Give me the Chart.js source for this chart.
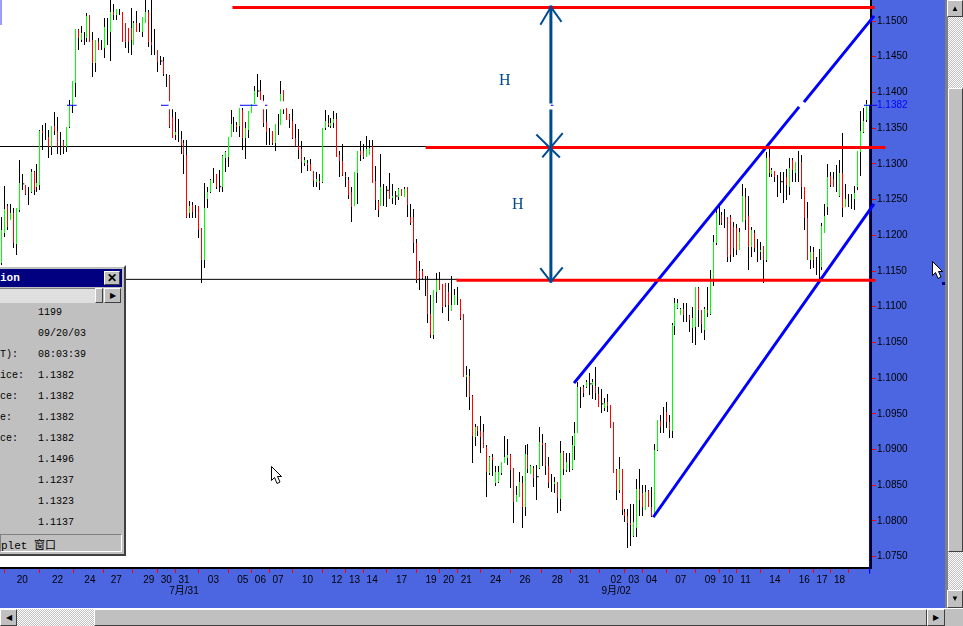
<!DOCTYPE html>
<html>
<head>
<meta charset="utf-8">
<script src="https://cdn.jsdelivr.net/npm/chart.js@4/dist/chart.umd.min.js"></script>
<style>
html, body { margin: 0; padding: 0; background: #4b66e0; overflow: hidden; }
#wrap { position: relative; width: 963px; height: 626px; overflow: hidden; }
canvas { position: absolute; left: 0; top: 0; }
.box { position: absolute; box-sizing: border-box; }
.dither { background: repeating-conic-gradient(#c0c0c0 0 25%, #fff 0 50%) 0 0 / 2px 2px; }
.btn { background: #c0c0c0; border: 1px solid; border-color: #fff #404040 #404040 #fff; }
.hl { position: absolute; font: 16px "Liberation Serif", serif; color: #004a8f; }
.row { position: absolute; font: 10px "Liberation Mono", monospace; color: #000; white-space: pre; }
</style>
</head>
<body>
<div id="wrap">
<canvas id="chart" width="963" height="626"></canvas>

<div class="box" style="left:0;top:0;width:2px;height:25px;background:#9a9aff"></div>
<div class="hl" style="left:499px;top:71px">H</div>
<div class="hl" style="left:512px;top:195px">H</div>

<!-- data window -->
<div class="box" style="left:0;top:265px;width:126px;height:291px;background:#c0c0c0;border-top:2px solid #fff;border-right:2px solid #404040;border-bottom:2px solid #404040">
  <div class="box" style="left:0;top:2px;width:122px;height:18px;background:#000080"></div>
  <div class="row" style="left:0;top:5px;color:#fff;font-weight:bold;font-size:11px">ion</div>
  <div class="box btn" style="left:104px;top:4px;width:16px;height:14px;font:bold 12px 'Liberation Sans';line-height:12px;text-align:center">✕</div>
  <div class="box" style="left:0;top:21px;width:95px;height:15px;background:#dfdfdf;border-top:1px solid #808080"></div>
  <div class="box btn" style="left:95px;top:21px;width:8px;height:15px"></div>
  <div class="box btn" style="left:104px;top:21px;width:17px;height:15px;font:8px 'Liberation Sans';line-height:13px;text-align:center">▶</div>
  <div class="row" style="left:38px;top:40px">1199</div>
  <div class="row" style="left:38px;top:61px">09/20/03</div>
  <div class="row" style="left:0;top:82px">T):</div><div class="row" style="left:38px;top:82px">08:03:39</div>
  <div class="row" style="left:0;top:103px">ice:</div><div class="row" style="left:38px;top:103px">1.1382</div>
  <div class="row" style="left:0;top:124px">ce:</div><div class="row" style="left:38px;top:124px">1.1382</div>
  <div class="row" style="left:0;top:145px">e:</div><div class="row" style="left:38px;top:145px">1.1382</div>
  <div class="row" style="left:0;top:166px">ce:</div><div class="row" style="left:38px;top:166px">1.1382</div>
  <div class="row" style="left:38px;top:187px">1.1496</div>
  <div class="row" style="left:38px;top:208px">1.1237</div>
  <div class="row" style="left:38px;top:229px">1.1323</div>
  <div class="row" style="left:38px;top:250px">1.1137</div>
  <div class="box" style="left:0;top:267px;width:122px;height:18px;border:1px solid;border-color:#808080 #fff #fff #808080"></div>
  <div class="row" style="left:1px;top:269px;font:11px 'Liberation Mono','Noto Sans CJK SC'">plet 窗口</div>
</div>

<!-- cursors -->
<svg class="box" style="left:271px;top:466px" width="12" height="20"><path d="M0.5 0.5V14.5L3.5 11.5L6 17.5L9 16L6.5 10.5H10.5Z" fill="#fff" stroke="#000"/></svg>
<svg class="box" style="left:932px;top:261px" width="12" height="20"><path d="M0.5 0.5V14.5L3.5 11.5L6 17.5L9 16L6.5 10.5H10.5Z" fill="#fff" stroke="#000"/></svg>
<div class="box" style="left:942px;top:282px;width:3px;height:3px;background:#000080"></div>

<!-- right scrollbar -->
<div class="box" style="left:945px;top:0;width:3px;height:608px;background:#808080"></div>
<div class="box dither" style="left:948px;top:0;width:15px;height:608px"></div>
<div class="box btn" style="left:947px;top:0;width:16px;height:17px;font:8px 'Liberation Sans';line-height:15px;text-align:center">▲</div>
<div class="box btn" style="left:948px;top:88px;width:15px;height:464px"></div>
<div class="box btn" style="left:947px;top:590px;width:16px;height:18px;font:8px 'Liberation Sans';line-height:16px;text-align:center">▼</div>

<!-- bottom scrollbar -->
<div class="box" style="left:0;top:608px;width:963px;height:18px;background:#c0c0c0;border-top:1px solid #fff"></div>
<div class="box btn" style="left:0;top:609px;width:17px;height:17px;font:8px 'Liberation Sans';line-height:15px;text-align:center">◀</div>
<div class="box dither" style="left:17px;top:609px;width:77px;height:17px"></div>
<div class="box btn" style="left:94px;top:609px;width:833px;height:17px"></div>
<div class="box btn" style="left:927px;top:609px;width:18px;height:17px;font:8px 'Liberation Sans';line-height:15px;text-align:center">▶</div>
</div>

<script>
// ===== Bars, prices in 1/10000 =====
const highs = [
11226,11269,11244,11244,11238,11238,11305,11286,11270,11268,
11293,11290,11300,11347,11354,11357,11347,11353,11373,11366,
11345,11333,11352,11389,11416,11489,11489,11493,11485,11511,
11508,11485,11473,11476,11473,11504,11504,11536,11524,11517,
11517,11513,11497,11490,11518,11500,11514,11497,11506,11536,
11515,11536,11489,11459,11451,11450,11426,11424,11378,11373,
11363,11346,11333,11333,11248,11247,11242,11241,11210,11273,
11268,11279,11294,11286,11291,11312,11318,11338,11375,11366,
11359,11378,11378,11359,11374,11384,11409,11426,11417,11396,
11377,11350,11346,11356,11370,11416,11403,11378,11370,11377,
11356,11349,11332,11310,11305,11307,11290,11289,11286,11350,
11375,11368,11364,11374,11371,11318,11328,11289,11282,11268,
11289,11318,11332,11328,11339,11333,11333,11297,11249,11314,
11272,11269,11287,11272,11262,11266,11265,11268,11268,11244,
11237,11195,11164,11153,11143,11143,11116,11123,11147,11149,
11132,11133,11133,11143,11125,11128,11111,11090,11017,11013,
10976,10936,10933,10947,10936,10906,10891,10894,10877,10877,
10883,10919,10915,10894,10874,10849,10869,10863,10906,10908,
10878,10877,10878,10932,10922,10909,10890,10866,10862,10855,
10912,10898,10895,10895,10919,10939,10995,10988,10990,10997,
11007,10999,11016,10988,10985,10972,10978,10962,10939,10873,
10890,10873,10817,10817,10824,10824,10859,10873,10850,10850,
10843,10848,10908,10941,10948,10960,10967,10948,11077,11112,
11111,11098,11105,11105,11088,11100,11128,11128,11095,11100,
11128,11151,11200,11238,11242,11233,11237,11226,11228,11219,
11216,11210,11272,11266,11255,11212,11207,11195,11191,11185,
11317,11322,11294,11290,11284,11289,11289,11293,11308,11308,
11303,11318,11312,11268,11247,11185,11184,11170,11181,11217,
11244,11300,11289,11289,11298,11305,11343,11272,11258,11258,
11269,11318,11374,11378,11389];

const lows = [
11158,11198,11207,11221,11182,11172,11233,11263,11256,11242,
11259,11256,11261,11263,11319,11333,11308,11312,11340,11314,
11312,11314,11317,11350,11371,11394,11459,11471,11466,11471,
11471,11422,11429,11459,11459,11448,11466,11444,11501,11501,
11508,11471,11462,11455,11452,11466,11485,11485,11478,11497,
11464,11452,11452,11429,11438,11423,11408,11350,11336,11333,
11331,11314,11286,11224,11224,11224,11224,11196,11133,11154,
11238,11259,11273,11265,11261,11261,11289,11296,11338,11345,
11345,11338,11319,11307,11336,11371,11384,11394,11389,11352,
11326,11326,11326,11318,11340,11354,11370,11361,11350,11335,
11325,11307,11287,11297,11290,11290,11268,11268,11263,11273,
11347,11352,11350,11350,11310,11282,11283,11268,11251,11219,
11241,11244,11304,11307,11310,11312,11273,11235,11226,11241,
11241,11240,11251,11244,11242,11249,11255,11254,11226,11214,
11175,11133,11123,11137,11115,11077,11056,11055,11105,11123,
11091,11100,11080,11094,11102,11102,11081,11002,10974,10955,
10881,10905,10919,10895,10902,10834,10864,10863,10849,10853,
10864,10881,10878,10846,10797,10827,10834,10790,10807,10867,
10866,10848,10829,10873,10877,10864,10846,10841,10839,10811,
10814,10864,10869,10869,10871,10885,10923,10958,10974,10986,
10976,10971,10969,10960,10951,10954,10953,10930,10867,10829,
10839,10808,10799,10762,10765,10778,10778,10807,10807,10815,
10820,10806,10807,10898,10923,10923,10930,10916,10916,11060,
11097,11088,11079,11079,11065,11049,11046,11072,11063,11053,
11086,11088,11129,11186,11214,11214,11210,11163,11163,11170,
11172,11179,11219,11207,11151,11170,11177,11163,11165,11133,
11163,11282,11282,11275,11254,11259,11245,11249,11256,11275,
11275,11275,11251,11207,11165,11153,11154,11144,11137,11151,
11203,11228,11268,11268,11261,11254,11226,11240,11240,11237,
11235,11263,11283,11343,11359];

const opens = [
11161,11203,11241,11221,11231,11188,11235,11272,11270,11261,
11261,11289,11268,11270,11346,11343,11338,11324,11353,11346,
11333,11332,11324,11352,11382,11413,11487,11473,11476,11476,
11508,11473,11441,11471,11466,11462,11487,11485,11513,11508,
11514,11513,11497,11490,11490,11466,11497,11492,11485,11497,
11513,11471,11473,11459,11444,11444,11417,11423,11366,11340,
11347,11335,11329,11312,11231,11242,11233,11241,11210,11165,
11251,11261,11284,11286,11268,11268,11308,11310,11338,11354,
11354,11353,11375,11336,11347,11371,11384,11402,11402,11389,
11359,11340,11346,11329,11356,11354,11403,11378,11368,11360,
11336,11325,11321,11301,11301,11300,11290,11275,11276,11275,
11350,11357,11353,11357,11363,11312,11304,11283,11277,11261,
11241,11287,11318,11318,11310,11312,11325,11276,11248,11241,
11256,11263,11263,11252,11255,11254,11265,11254,11268,11226,
11226,11189,11150,11150,11135,11137,11090,11060,11121,11137,
11132,11133,11121,11094,11102,11112,11111,11090,11002,11003,
10975,10918,10933,10926,10925,10904,10867,10890,10853,10855,
10867,10881,10888,10892,10874,10827,10834,10853,10820,10892,
10866,10874,10862,10874,10909,10908,10877,10853,10852,10855,
10831,10897,10871,10883,10873,10905,10923,10982,10988,10988,
10992,10990,10989,10978,10964,10958,10967,10962,10939,10871,
10843,10873,10813,10807,10797,10779,10790,10845,10839,10815,
10842,10820,10811,10899,10940,10932,10953,10939,10926,11073,
11098,11088,11097,11091,11087,11070,11072,11126,11095,11067,
11095,11090,11137,11189,11228,11228,11219,11226,11226,11212,
11210,11179,11219,11254,11227,11184,11203,11182,11177,11185,
11165,11310,11286,11290,11282,11275,11263,11282,11268,11305,
11287,11298,11303,11268,11224,11165,11177,11163,11151,11156,
11203,11240,11283,11279,11270,11255,11287,11240,11249,11249,
11251,11268,11317,11345,11361];

const closes = [
11207,11237,11212,11231,11189,11238,11273,11272,11258,11261,
11289,11263,11273,11346,11343,11343,11324,11353,11346,11324,
11333,11324,11352,11382,11416,11489,11476,11483,11476,11507,
11471,11441,11473,11459,11466,11492,11487,11513,11508,11517,
11514,11471,11471,11471,11473,11497,11485,11492,11506,11513,
11471,11466,11473,11443,11444,11426,11417,11352,11336,11345,
11347,11326,11312,11226,11241,11233,11233,11207,11165,11238,
11261,11277,11284,11268,11268,11311,11317,11338,11356,11354,
11352,11378,11336,11350,11374,11384,11402,11402,11389,11357,
11345,11340,11329,11356,11356,11398,11378,11361,11361,11336,
11325,11319,11303,11305,11298,11290,11276,11279,11273,11350,
11360,11354,11357,11363,11310,11304,11284,11282,11256,11240,
11289,11318,11312,11310,11321,11322,11273,11249,11235,11268,
11256,11263,11251,11255,11255,11265,11255,11265,11242,11217,
11189,11137,11140,11140,11135,11090,11060,11123,11137,11123,
11100,11102,11102,11102,11116,11112,11084,11002,11004,10974,
10919,10932,10926,10918,10902,10869,10890,10885,10869,10869,
10883,10890,10892,10871,10827,10836,10855,10820,10894,10873,
10877,10860,10862,10911,10906,10877,10853,10853,10855,10832,
10895,10873,10883,10883,10906,10923,10988,10982,10979,10995,
10992,10995,10979,10960,10964,10965,10961,10930,10867,10843,
10873,10815,10807,10797,10794,10799,10845,10829,10820,10841,
10820,10807,10899,10941,10932,10932,10939,10927,11074,11105,
11105,11097,11088,11091,11081,11084,11128,11095,11076,11097,
11091,11137,11191,11231,11228,11217,11219,11170,11172,11182,
11179,11205,11255,11221,11184,11207,11182,11182,11179,11165,
11308,11287,11291,11282,11282,11275,11263,11270,11294,11291,
11303,11298,11268,11224,11165,11177,11165,11163,11151,11213,
11227,11282,11270,11268,11270,11287,11238,11251,11249,11249,
11259,11318,11346,11360,11384];

// bars with a small cross tick
const dojiBars = [7, 54, 74, 87, 131, 134, 182, 200, 204, 265];

// ===== Axes =====
const priceTicks = [1.15, 1.145, 1.14, 1.1382, 1.135, 1.13, 1.125, 1.12, 1.115, 1.11, 1.105, 1.1, 1.095, 1.09, 1.085, 1.08, 1.075];
const lastPrice = 1.1382;
const dayTicks = [7,19,30,39,50,56,62,72,82,88,94,104,114,120,126,136,146,152,158,168,178,189,198,209,215,221,231,241,247,253,263,273,279,285];
const dayLabels = ["20","22","24","27","29","30","31","03","05","06","07","10","12","13","14","17","19","20","21","24","26","28","31","02","03","04","07","09","10","11","14","16","17","18"];
const monthTicks = [62, 209];
const monthLabels = ["7月/31", "9月/02"];

// ===== Drawn objects, [bar, price] =====
const topLevel = [[79.0, 1.1519], [296.4, 1.1519]];
const midLevel = [[144.7, 1.1323], [300.1, 1.1323]];
const lowLevel = [[155.2, 1.1137], [296.7, 1.1137]];
const midThin = [[-0.6, 1.13243], [144.7, 1.13243]];
const lowThin = [[-0.6, 1.11383], [155.2, 1.11383]];
const channelUpA = [[195.0, 1.09946], [270.9, 1.13782]];
const channelUpB = [[273.2, 1.1388], [296.4, 1.15056]];
const channelLow = [[221.9, 1.0807], [296.4, 1.12424]];
const lastLine = [[295.2, 1.1382], [295.2, 1.0727]];
const arrowSegs = [
  [[186.8, 1.15196], [186.8, 1.13866]],
  [[186.8, 1.1374], [186.8, 1.1136]],
  [[183.4, 1.14958], [186.8, 1.15196]],
  [[190.2, 1.15], [186.8, 1.15196]],
  [[182.1, 1.134], [189.6, 1.131]],
  [[184.1, 1.131], [190.6, 1.1342]],
  [[183.4, 1.1153], [186.8, 1.1135]],
  [[190.6, 1.1154], [186.8, 1.1135]]
];
const lastDashes = [[22.2, 25.3], [54.2, 56.6], [81.1, 86.8], [89.6, 90.2], [186.8, 187.5], [293.3, 297.7]];
const lastBreaks = [[55.9, 57.3], [88.5, 89.9], [94.3, 95.3]];

// ===== Scale of the photograph =====
const barStep = 2.94;
const plotWidth = 871;
const xMin = -0.578;
const yTop = 1.15294;
const yBottom = 1.07342;

const GREEN = "#00ff00";
const RED = "#ff0000";
const NAVY = "#004a8f";
const BLUE = "#0000ff";

function pairs(list) {
    return list.map(p => ({ x: p[0], y: p[1] }));
}

function segments(list, price) {
    const out = [];
    list.forEach(s => {
        out.push({ x: s[0], y: price }, { x: s[1], y: price }, { x: s[1], y: null });
    });
    return out;
}

function lineSet(points, color, width, order) {
    return {
        type: "line",
        data: points,
        borderColor: color,
        borderWidth: width,
        pointRadius: 0,
        tension: 0,
        borderCapStyle: "square",
        spanGaps: false,
        clip: false,
        order: order
    };
}

// no room kept for labels that stick out of the plot
function noScalePadding(scale) {
    scale.paddingTop = 0;
    scale.paddingBottom = 0;
    scale.paddingLeft = 0;
    scale.paddingRight = 0;
}

const rangeData = highs.map((h, i) => ({ x: i, y: [lows[i] / 10000, h / 10000] }));
const bodyData = opens.map((o, i) => ({ x: i, y: [o / 10000, closes[i] / 10000] }));
const bodyColors = opens.map((o, i) => closes[i] >= o ? GREEN : RED);

const datasets = [
    lineSet(pairs(midThin), "#000000", 1, 30),
    lineSet(pairs(lowThin), "#000000", 1, 30),
    {
        type: "bar",
        data: rangeData,
        backgroundColor: "#000000",
        barThickness: 1,
        grouped: false,
        borderWidth: 0,
        inflateAmount: 0,
        order: 20
    },
    {
        type: "bar",
        data: bodyData,
        backgroundColor: bodyColors,
        barThickness: 1,
        grouped: false,
        borderWidth: 0,
        inflateAmount: 0,
        order: 19
    },
    {
        type: "scatter",
        data: dojiBars.map(i => ({ x: i, y: opens[i] / 10000 })),
        pointStyle: "dash",
        pointRadius: 2,
        borderColor: "#000000",
        backgroundColor: "#000000",
        borderWidth: 1,
        order: 18
    },
    lineSet(segments(lastBreaks, lastPrice), "#ffffff", 8, 17),
    lineSet(segments(lastDashes, lastPrice), BLUE, 1, 16),
    lineSet(pairs(channelUpA), BLUE, 3, 9),
    lineSet(pairs(channelUpB), BLUE, 3, 9),
    lineSet(pairs(channelLow), BLUE, 3, 9),
    lineSet(pairs(lastLine), BLUE, 1, 8),
    lineSet(pairs(topLevel), RED, 3, 7),
    lineSet(pairs(midLevel), RED, 3, 7),
    lineSet(pairs(lowLevel), RED, 3, 7)
];

arrowSegs.forEach((seg, i) => {
    datasets.push(lineSet(pairs(seg), NAVY, i < 2 ? 3 : 2, 5));
});

// white plot area on the blue window
const plotBackground = {
    id: "plotBackground",
    beforeDraw(chart) {
        const a = chart.chartArea;
        const ctx = chart.ctx;
        ctx.save();
        ctx.fillStyle = "#4b66e0";
        ctx.fillRect(0, 0, chart.width, chart.height);
        ctx.fillStyle = "#ffffff";
        ctx.fillRect(a.left, a.top, a.right - a.left, a.bottom - a.top);
        ctx.restore();
    }
};

// keep one pixel bars sharp
const snapBars = {
    id: "snapBars",
    afterDatasetsUpdate(chart) {
        chart.getSortedVisibleDatasetMetas().forEach(meta => {
            if (meta.type !== "bar") return;
            meta.data.forEach(el => {
                el.x = Math.floor(el.x) + 0.5;
                el.y = Math.round(el.y);
                el.base = Math.round(el.base);
            });
        });
    }
};

new Chart(document.getElementById("chart"), {
    type: "bar",
    data: { datasets: datasets },
    plugins: [plotBackground, snapBars],
    options: {
        responsive: false,
        animation: false,
        devicePixelRatio: 1,
        layout: { padding: 0, autoPadding: false },
        plugins: {
            legend: { display: false },
            title: { display: false },
            tooltip: { enabled: false }
        },
        scales: {
            x: {
                type: "linear",
                position: "bottom",
                offset: false,
                min: xMin,
                max: xMin + plotWidth / barStep,
                afterFit(scale) {
                    scale.height = 58;
                    noScalePadding(scale);
                },
                afterBuildTicks(scale) {
                    scale.ticks = dayTicks.map(v => ({ value: v }));
                },
                border: { display: true, color: "#000000", width: 2 },
                grid: {
                    drawOnChartArea: false,
                    drawTicks: true,
                    tickColor: RED,
                    tickLength: 5,
                    tickWidth: 1
                },
                ticks: {
                    autoSkip: false,
                    maxRotation: 0,
                    padding: 2,
                    color: "#000000",
                    font: { family: "Liberation Sans, Noto Sans CJK SC", size: 10, lineHeight: 1.1 },
                    callback(value) {
                        const day = dayLabels[dayTicks.indexOf(value)];
                        const m = monthTicks.indexOf(value);
                        return m >= 0 ? [day, monthLabels[m]] : day;
                    }
                }
            },
            y: {
                type: "linear",
                position: "right",
                min: yBottom,
                max: yTop,
                afterFit(scale) {
                    scale.width = 963 - plotWidth;
                    noScalePadding(scale);
                },
                afterBuildTicks(scale) {
                    scale.ticks = priceTicks.map(v => ({ value: v }));
                },
                border: { display: true, color: "#000000", width: 2 },
                grid: {
                    drawOnChartArea: false,
                    drawTicks: true,
                    tickColor: RED,
                    tickLength: 5,
                    tickWidth: 1
                },
                ticks: {
                    autoSkip: false,
                    padding: 1,
                    font: { family: "Liberation Sans", size: 10 },
                    color(ctx) {
                        return ctx.tick && ctx.tick.value === lastPrice ? BLUE : "#000000";
                    },
                    callback(value) {
                        return value.toFixed(4);
                    }
                }
            }
        }
    }
});
</script>
</body>
</html>
